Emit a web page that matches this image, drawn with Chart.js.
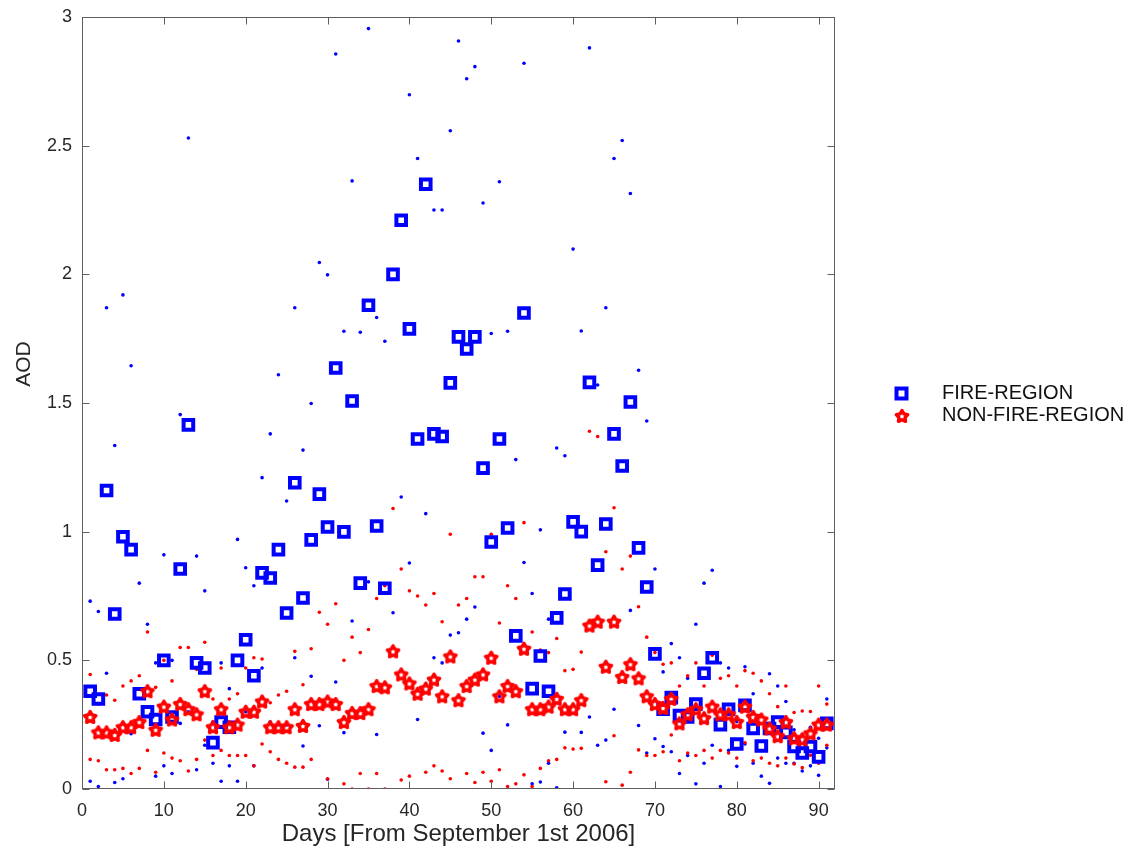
<!DOCTYPE html>
<html>
<head>
<meta charset="utf-8">
<title>AOD - fire vs non-fire region</title>
<script src="https://cdn.jsdelivr.net/npm/chart.js@4.4.1/dist/chart.umd.min.js"></script>
<style>
  html, body { margin: 0; padding: 0; background: #fff; }
  #wrap { width: 1127px; height: 852px; }
</style>
</head>
<body>
<div id="wrap"><canvas id="aodChart" width="1127" height="852"></canvas></div>
<script>
// days since September 1st 2006
let days = [1, 2, 3, 4, 5, 6, 7, 8, 9, 10, 11, 12, 13, 14, 15, 16, 17, 18, 19, 20,
    21, 22, 23, 24, 25, 26, 27, 28, 29, 30, 31, 32, 33, 34, 35, 36, 37, 38, 39, 40,
    41, 42, 43, 44, 45, 46, 47, 48, 49, 50, 51, 52, 53, 54, 55, 56, 57, 58, 59, 60,
    61, 62, 63, 64, 65, 66, 67, 68, 69, 70, 71, 72, 73, 74, 75, 76, 77, 78, 79, 80,
    81, 82, 83, 84, 85, 86, 87, 88, 89, 90, 91];

// mean AOD and spread (small dots = mean +/- spread)
let fireMean = [0.38, 0.35, 1.16, 0.68, 0.98, 0.93, 0.37, 0.30, 0.27, 0.50,
    0.28, 0.855, 1.415, 0.49, 0.47, 0.18, 0.26, 0.24, 0.50, 0.58,
    0.44, 0.84, 0.82, 0.93, 0.684, 1.19, 0.742, 0.968, 1.146, 1.018,
    1.636, 0.999, 1.508, 0.80, 1.88, 1.022, 0.78, 2.0, 2.21, 1.788,
    1.36, 2.35, 1.38, 1.37, 1.578, 1.757, 1.71, 1.757, 1.247, 0.96,
    1.36, 1.014, 0.595, 1.85, 0.39, 0.517, 0.38, 0.665, 0.758, 1.038,
    1.0, 1.58, 0.87, 1.03, 1.38, 1.255, 1.504, 0.937, 0.785, 0.525,
    0.31, 0.355, 0.285, 0.28, 0.33, 0.45, 0.51, 0.25, 0.31, 0.175,
    0.325, 0.235, 0.167, 0.235, 0.26, 0.22, 0.165, 0.14, 0.165, 0.125, 0.255];
let fireStd = [0.35, 0.34, 0.71, 0.655, 0.94, 0.715, 0.43, 0.34, 0.22, 0.41,
    0.22, 0.60, 1.115, 0.415, 0.30, 0.08, 0.23, 0.15, 0.47, 0.28,
    0.35, 0.37, 0.56, 0.68, 0.435, 0.68, 0.575, 0.53, 0.90, 0.98,
    1.22, 0.78, 0.855, 0.975, 1.075, 0.81, 0.96, 1.315, 1.075, 0.91,
    1.09, 1.28, 0.87, 0.88, 0.98, 1.15, 1.05, 1.05, 1.03, 0.81,
    1.0, 0.765, 0.685, 0.97, 0.37, 0.49, 0.28, 0.66, 0.537, 1.06,
    0.78, 1.3, 0.70, 0.84, 1.07, 1.265, 0.81, 0.69, 0.645, 0.33,
    0.145, 0.21, 0.225, 0.15, 0.31, 0.35, 0.34, 0.24, 0.16, 0.087,
    0.15, 0.135, 0.117, 0.213, 0.14, 0.12, 0.065, 0.07, 0.075, 0.072, 0.095];
let nonFireMean = [0.28, 0.22, 0.22, 0.21, 0.24, 0.24, 0.26, 0.38, 0.23, 0.32,
    0.27, 0.33, 0.31, 0.29, 0.38, 0.24, 0.31, 0.24, 0.25, 0.30,
    0.30, 0.34, 0.24, 0.24, 0.24, 0.31, 0.245, 0.33, 0.33, 0.34,
    0.33, 0.26, 0.295, 0.295, 0.31, 0.40, 0.395, 0.535, 0.445, 0.41,
    0.37, 0.39, 0.425, 0.36, 0.515, 0.345, 0.40, 0.425, 0.445, 0.51,
    0.36, 0.40, 0.38, 0.545, 0.31, 0.31, 0.32, 0.35, 0.31, 0.31,
    0.345, 0.635, 0.65, 0.475, 0.65, 0.435, 0.485, 0.43, 0.36, 0.33,
    0.315, 0.35, 0.255, 0.29, 0.31, 0.275, 0.32, 0.29, 0.29, 0.26,
    0.32, 0.28, 0.27, 0.235, 0.205, 0.26, 0.197, 0.193, 0.216, 0.25, 0.25];
let nonFireStd = [0.165, 0.11, 0.145, 0.135, 0.16, 0.18, 0.18, 0.23, 0.165, 0.18,
    0.15, 0.22, 0.24, 0.175, 0.19, 0.11, 0.16, 0.11, 0.12, 0.17,
    0.21, 0.165, 0.095, 0.125, 0.14, 0.225, 0.16, 0.215, 0.357, 0.30,
    0.39, 0.24, 0.295, 0.235, 0.31, 0.34, 0.395, 0.555, 0.41, 0.36,
    0.38, 0.325, 0.335, 0.29, 0.475, 0.37, 0.34, 0.40, 0.38, 0.48,
    0.285, 0.39, 0.36, 0.49, 0.30, 0.23, 0.21, 0.235, 0.15, 0.155,
    0.187, 0.755, 0.72, 0.447, 0.443, 0.42, 0.42, 0.278, 0.23, 0.2,
    0.17, 0.14, 0.145, 0.15, 0.18, 0.125, 0.2, 0.14, 0.15, 0.14,
    0.14, 0.17, 0.15, 0.135, 0.115, 0.14, 0.1, 0.11, 0.085, 0.15, 0.08];

let xTicks = [0, 10, 20, 30, 40, 50, 60, 70, 80, 90];
let yTicks = [0, 0.5, 1, 1.5, 2, 2.5, 3];
let seriesNames = ['FIRE-REGION', 'NON-FIRE-REGION'];

const FONT = "'Liberation Sans', Arial, Helvetica, sans-serif";
const BLUE = '#0000ff';
const RED = '#ff0000';
const INK = '#262626';

// hollow five point star like the matlab marker
function makeStar(color) {
    let c = document.createElement('canvas');
    c.width = 18;
    c.height = 18;
    let g = c.getContext('2d');
    let R = 6.0, r = 3.2;
    g.beginPath();
    for (let i = 0; i < 10; i++) {
        let rad = i % 2 ? r : R;
        let a = -Math.PI / 2 + i * Math.PI / 5;
        let px = 9 + rad * Math.cos(a), py = 9.5 + rad * Math.sin(a);
        if (i === 0) g.moveTo(px, py); else g.lineTo(px, py);
    }
    g.closePath();
    g.lineWidth = 3.4;
    g.lineJoin = 'round';
    g.strokeStyle = color;
    g.stroke();
    return c;
}
let redStar = makeStar(RED);

function toPoints(xs, ys) {
    return xs.map((x, i) => ({ x: x, y: ys[i] }));
}

function spreadPoints(xs, mean, sd) {
    let pts = [];
    xs.forEach((x, i) => {
        [mean[i] + sd[i], mean[i] - sd[i]].forEach(v => {
            if (v >= 0 && v <= 3) pts.push({ x: x, y: v });
        });
    });
    return pts;
}

const framePlugin = {
    id: 'frame',
    afterDatasetsDraw(chart) {
        let { ctx, chartArea: a, scales } = chart;
        let L = a.left + 0.5, R = a.right - 0.5, T = a.top + 0.5, B = a.bottom - 0.5;
        ctx.save();
        ctx.strokeStyle = '#5e5e5e';
        ctx.lineWidth = 1;
        ctx.strokeRect(L, T, R - L, B - T);
        ctx.beginPath();
        xTicks.forEach(v => {
            let px = Math.round(scales.x.getPixelForValue(v)) + 0.5;
            ctx.moveTo(px, B); ctx.lineTo(px, B - 7);
            ctx.moveTo(px, T); ctx.lineTo(px, T + 7);
        });
        yTicks.forEach(v => {
            let py = Math.round(scales.y.getPixelForValue(v)) + 0.5;
            ctx.moveTo(L, py); ctx.lineTo(L + 7, py);
            ctx.moveTo(R, py); ctx.lineTo(R - 7, py);
        });
        ctx.stroke();

        // axis titles
        ctx.fillStyle = INK;
        ctx.font = '24px ' + FONT;
        ctx.textAlign = 'center';
        ctx.textBaseline = 'middle';
        ctx.fillText('Days [From September 1st 2006]', (a.left + a.right) / 2, 834);
        ctx.save();
        ctx.translate(24, 364);
        ctx.rotate(-Math.PI / 2);
        ctx.font = '21px ' + FONT;
        ctx.fillText('AOD', 0, 0);
        ctx.restore();

        // legend
        ctx.strokeStyle = BLUE;
        ctx.lineWidth = 4;
        ctx.strokeRect(896.5, 388.5, 10, 10);
        ctx.drawImage(redStar, 893, 407);
        ctx.font = '20px ' + FONT;
        ctx.textAlign = 'left';
        ctx.fillStyle = '#111';
        ctx.fillText(seriesNames[0], 942, 393);
        ctx.fillText(seriesNames[1], 942, 415);
        ctx.restore();
    }
};

let ctx = document.getElementById('aodChart').getContext('2d');

let aodChart = new Chart(ctx, {
    type: 'scatter',
    data: {
        datasets: [{
            label: seriesNames[1],
            data: toPoints(days, nonFireMean),
            pointStyle: redStar,
            pointRadius: 7,
            borderColor: RED,
            backgroundColor: RED
        }, {
            label: seriesNames[0],
            data: toPoints(days, fireMean),
            pointStyle: 'rect',
            pointRadius: 6.8,
            borderWidth: 4,
            borderColor: BLUE,
            backgroundColor: 'rgba(0,0,0,0)'
        }, {
            label: 'non-fire spread',
            data: spreadPoints(days, nonFireMean, nonFireStd),
            pointRadius: 1.8,
            borderWidth: 0,
            backgroundColor: RED
        }, {
            label: 'fire spread',
            data: spreadPoints(days, fireMean, fireStd),
            pointRadius: 1.8,
            borderWidth: 0,
            backgroundColor: BLUE
        }]
    },
    options: {
        responsive: false,
        animation: false,
        layout: {
            padding: { left: 0, right: 292, top: 17, bottom: 0 }
        },
        plugins: {
            legend: { display: false },
            tooltip: { enabled: false }
        },
        scales: {
            x: {
                type: 'linear',
                min: 0,
                max: 92,
                afterFit: (s) => {
                    s.height = 63;
                    s.paddingLeft = 0;
                    s.paddingRight = 0;
                },
                afterBuildTicks: (s) => { s.ticks = xTicks.map(v => ({ value: v })); },
                ticks: {
                    font: { family: FONT, size: 18 },
                    color: INK,
                    padding: 11,
                    maxRotation: 0,
                    autoSkip: false,
                    callback: (v) => String(v)
                },
                grid: { display: false, drawTicks: false },
                border: { display: false }
            },
            y: {
                type: 'linear',
                min: 0,
                max: 3,
                afterFit: (s) => {
                    s.width = 82;
                    s.paddingTop = 0;
                    s.paddingBottom = 0;
                },
                afterBuildTicks: (s) => { s.ticks = yTicks.map(v => ({ value: v })); },
                ticks: {
                    font: { family: FONT, size: 18 },
                    color: INK,
                    padding: 10,
                    autoSkip: false,
                    callback: (v) => String(v)
                },
                grid: { display: false, drawTicks: false },
                border: { display: false }
            }
        }
    },
    plugins: [framePlugin]
});
</script>
</body>
</html>
